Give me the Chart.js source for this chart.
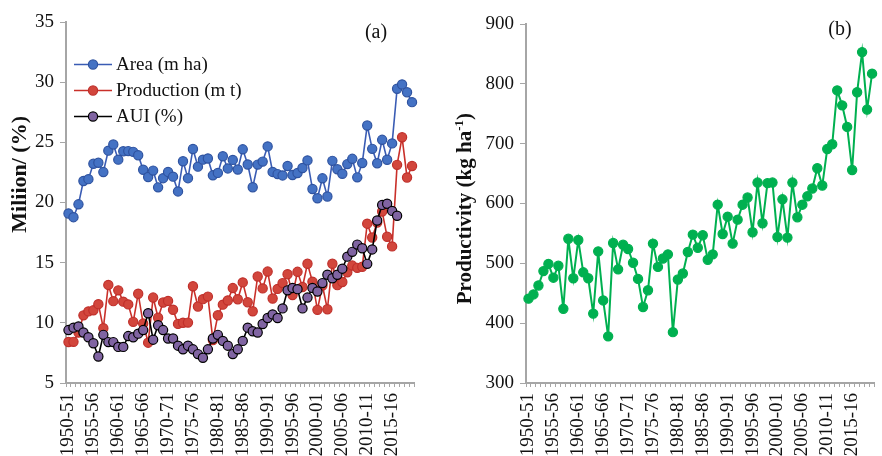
<!DOCTYPE html>
<html>
<head>
<meta charset="utf-8">
<script src="https://cdn.jsdelivr.net/npm/chart.js@4.4.1/dist/chart.umd.min.js"></script>
<style>
  html, body { margin: 0; padding: 0; background: #fff; overflow: hidden; width: 882px; height: 456px; }
  #wrap { position: relative; width: 882px; height: 456px; overflow: hidden; }
  canvas { position: absolute; top: 0; }
  #panelA { left: 0; }
  #panelB { left: 441px; }
</style>
</head>
<body>
<div id="wrap">
  <canvas id="panelA" width="441" height="456"></canvas>
  <canvas id="panelB" width="460" height="456"></canvas>
</div>
<script>
// Crop seasons, 1950-51 to 2019-20
const seasons = [
  '1950-51','1951-52','1952-53','1953-54','1954-55','1955-56','1956-57','1957-58','1958-59','1959-60',
  '1960-61','1961-62','1962-63','1963-64','1964-65','1965-66','1966-67','1967-68','1968-69','1969-70',
  '1970-71','1971-72','1972-73','1973-74','1974-75','1975-76','1976-77','1977-78','1978-79','1979-80',
  '1980-81','1981-82','1982-83','1983-84','1984-85','1985-86','1986-87','1987-88','1988-89','1989-90',
  '1990-91','1991-92','1992-93','1993-94','1994-95','1995-96','1996-97','1997-98','1998-99','1999-00',
  '2000-01','2001-02','2002-03','2003-04','2004-05','2005-06','2006-07','2007-08','2008-09','2009-10',
  '2010-11','2011-12','2012-13','2013-14','2014-15','2015-16','2016-17','2017-18','2018-19','2019-20'
];

// Seasons that carry a label on the x axis
const shownSeasons = [
  '1950-51','1955-56','1960-61','1965-66','1970-71','1975-76','1980-81',
  '1985-86','1990-91','1995-96','2000-01','2005-06','2010-11','2015-16'
];

// Area (million ha)
const areaMha = [
  19.09, 18.78, 19.85, 21.79, 21.94, 23.22, 23.30, 22.53, 24.31, 24.82,
  23.56, 24.26, 24.27, 24.21, 23.93, 22.72, 22.12, 22.65, 21.26, 22.02,
  22.54, 22.15, 20.92, 23.43, 22.02, 24.45, 22.98, 23.56, 23.66, 22.26,
  22.46, 23.84, 22.83, 23.54, 22.74, 24.42, 23.16, 21.27, 23.15, 23.40,
  24.66, 22.54, 22.36, 22.25, 23.03, 22.28, 22.45, 22.87, 23.50, 21.12,
  20.35, 22.01, 20.50, 23.46, 22.76, 22.39, 23.19, 23.63, 22.09, 23.28,
  26.40, 24.46, 23.26, 25.21, 23.55, 24.91, 29.45, 29.81, 29.16, 28.34
];

// Production (million t)
const productionMt = [
  8.41, 8.42, 9.19, 10.62, 10.95, 11.04, 11.55, 9.56, 13.15, 11.80,
  12.70, 11.76, 11.53, 10.08, 12.42, 9.94, 8.35, 12.10, 10.42, 11.69,
  11.82, 11.09, 9.91, 10.01, 10.02, 13.04, 11.36, 11.97, 12.18, 8.57,
  10.63, 11.51, 11.86, 12.89, 11.96, 13.36, 11.71, 10.96, 13.85, 12.86,
  14.26, 12.02, 12.82, 13.30, 14.04, 12.31, 14.24, 12.98, 14.91, 13.42,
  11.08, 13.10, 11.13, 14.91, 13.13, 13.39, 14.20, 14.76, 14.57, 14.66,
  18.24, 17.09, 18.34, 19.25, 17.15, 16.35, 23.13, 25.42, 22.08, 23.03
];

// Area under irrigation (%), available up to 2016-17
const auiPct = [
  9.4, 9.6, 9.7, 9.2, 8.8, 8.3, 7.2, 9.0, 8.4, 8.4,
  8.0, 8.0, 8.9, 8.8, 9.1, 9.4, 10.8, 8.6, 9.8, 9.4,
  8.7, 8.7, 8.1, 7.8, 8.1, 7.8, 7.4, 7.1, 7.8, 8.7,
  9.0, 8.5, 8.1, 7.4, 7.8, 8.5, 9.6, 9.3, 9.2, 9.9,
  10.4, 10.7, 10.4, 11.2, 12.7, 12.9, 12.8, 11.2, 12.1, 12.9,
  12.6, 13.3, 14.0, 13.7, 14.0, 14.5, 15.5, 15.9, 16.5, 16.2,
  14.9, 16.1, 18.5, 19.8, 19.9, 19.3, 18.9
];

// Productivity (kg/ha)
const productivityKgHa = [
  441, 448, 463, 487, 499, 476, 496, 424, 541, 475,
  539, 485, 475, 416, 520, 438, 378, 534, 490, 531,
  524, 501, 474, 427, 455, 533, 494, 508, 515, 385,
  473, 483, 519, 548, 526, 547, 506, 515, 598, 549,
  578, 533, 573, 598, 610, 552, 635, 567, 634, 635,
  544, 607, 543, 635, 577, 598, 612, 625, 659, 630,
  691, 699, 789, 764, 728, 656, 786, 853, 757, 817
];

const FONT = '"Liberation Serif", "Times New Roman", Times, serif';
const INK = '#111';
const AXIS_GRAY = '#a6a6a6';

function lineSeries(label, data, line, fill, edge, order) {
  return {
    label, data, order,
    borderColor: line, borderWidth: 1.6,
    pointBackgroundColor: fill, pointBorderColor: edge, pointBorderWidth: 1.2,
    pointRadius: 4.6, pointHoverRadius: 4.6,
    tension: 0, clip: false
  };
}

function panelOptions(o) {
  return {
    responsive: false, animation: false, devicePixelRatio: 1,
    layout: { padding: { top: o.top, right: o.right, left: 0, bottom: 0 } },
    plugins: { legend: { display: false }, tooltip: { enabled: false } },
    scales: {
      x: {
        type: 'category', offset: true,
        grid: { drawOnChartArea: false, drawTicks: true, tickLength: 4, tickColor: AXIS_GRAY, offset: true },
        border: { display: true, color: AXIS_GRAY, width: 2 },
        ticks: {
          autoSkip: false, minRotation: 90, maxRotation: 90, padding: 6,
          color: INK, font: { family: FONT, size: 19 },
          callback(v, i) { const s = seasons[i]; return shownSeasons.includes(s) ? s : ''; }
        },
        afterFit(s) { s.height = o.xh; }
      },
      y: {
        min: o.min, max: o.max,
        ticks: { stepSize: o.step, padding: 6, color: INK, font: { family: FONT, size: 19 } },
        grid: { drawOnChartArea: false, drawTicks: true, tickLength: 6, tickColor: AXIS_GRAY },
        border: { display: true, color: AXIS_GRAY, width: 2 },
        afterFit(s) { s.width = o.yw; }
      }
    }
  };
}

// Rotated axis title; parts = [{text, sup}] drawn bottom-to-top, top end anchored at `top`
function drawRotatedTitle(ctx, parts, cx, top, size) {
  ctx.save();
  const mainFont = 'bold ' + size + 'px ' + FONT;
  const supFont = 'bold ' + Math.round(size * 0.62) + 'px ' + FONT;
  let total = 0;
  const widths = parts.map(p => { ctx.font = p.sup ? supFont : mainFont; const w = ctx.measureText(p.text).width; total += w; return w; });
  const cy = top + total / 2;
  ctx.translate(cx, cy);
  ctx.rotate(-Math.PI / 2);
  ctx.fillStyle = INK;
  ctx.textBaseline = 'middle';
  ctx.textAlign = 'left';
  let x = -total / 2;
  parts.forEach((p, i) => {
    ctx.font = p.sup ? supFont : mainFont;
    ctx.fillText(p.text, x, p.sup ? -size * 0.3 : 0);
    x += widths[i];
  });
  ctx.restore();
}

function drawText(ctx, text, x, y, size) {
  ctx.save();
  ctx.font = size + 'px ' + FONT;
  ctx.fillStyle = INK;
  ctx.textAlign = 'center';
  ctx.textBaseline = 'middle';
  ctx.fillText(text, x, y);
  ctx.restore();
}

const panelADecor = {
  id: 'panelADecor',
  afterDraw(chart) {
    const ctx = chart.ctx;
    drawRotatedTitle(ctx, [{ text: 'Miliion/ (%)' }], 20, 116, 22);
    drawText(ctx, '(a)', 376, 33, 20);
    // legend: line sample with marker, then label
    const rows = [64.5, 90.5, 116.5];
    chart.data.datasets.forEach((ds, i) => {
      const y = rows[i];
      ctx.save();
      ctx.strokeStyle = ds.borderColor;
      ctx.lineWidth = 1.6;
      ctx.beginPath(); ctx.moveTo(74, y); ctx.lineTo(112, y); ctx.stroke();
      ctx.beginPath(); ctx.arc(93, y, 4.6, 0, Math.PI * 2);
      ctx.fillStyle = ds.pointBackgroundColor; ctx.fill();
      ctx.lineWidth = 1.2; ctx.strokeStyle = ds.pointBorderColor; ctx.stroke();
      ctx.font = '19px ' + FONT;
      ctx.fillStyle = INK;
      ctx.textAlign = 'left'; ctx.textBaseline = 'middle';
      ctx.fillText(ds.label, 116, y + 1);
      ctx.restore();
    });
  }
};

const panelBDecor = {
  id: 'panelBDecor',
  afterDraw(chart) {
    const ctx = chart.ctx;
    drawRotatedTitle(ctx, [{ text: 'Productivity (kg ha' }, { text: '-1', sup: true }, { text: ')' }], 25, 113, 21);
    drawText(ctx, '(b)', 399, 30, 20);
  }
};

new Chart(document.getElementById('panelA'), {
  type: 'line',
  data: {
    labels: seasons,
    datasets: [
      lineSeries('Area (m ha)', areaMha, '#3a5cb4', '#4472c4', '#2f53a0', 3),
      lineSeries('Production (m t)', productionMt, '#c9302a', '#d2463c', '#c0302b', 2),
      lineSeries('AUI (%)', auiPct, '#000000', '#8064a2', '#000000', 1)
    ]
  },
  options: panelOptions({ top: 22, right: 24, xh: 73, yw: 66, min: 5, max: 35, step: 5 }),
  plugins: [panelADecor]
});

new Chart(document.getElementById('panelB'), {
  type: 'line',
  data: {
    labels: seasons,
    datasets: [
      Object.assign(lineSeries('Productivity', productivityKgHa, '#00b050', '#00b050', '#00b050', 1), { borderWidth: 2 })
    ]
  },
  options: panelOptions({ top: 24, right: 19, xh: 73, yw: 85, min: 300, max: 900, step: 100 }),
  plugins: [panelBDecor]
});
</script>
</body>
</html>
